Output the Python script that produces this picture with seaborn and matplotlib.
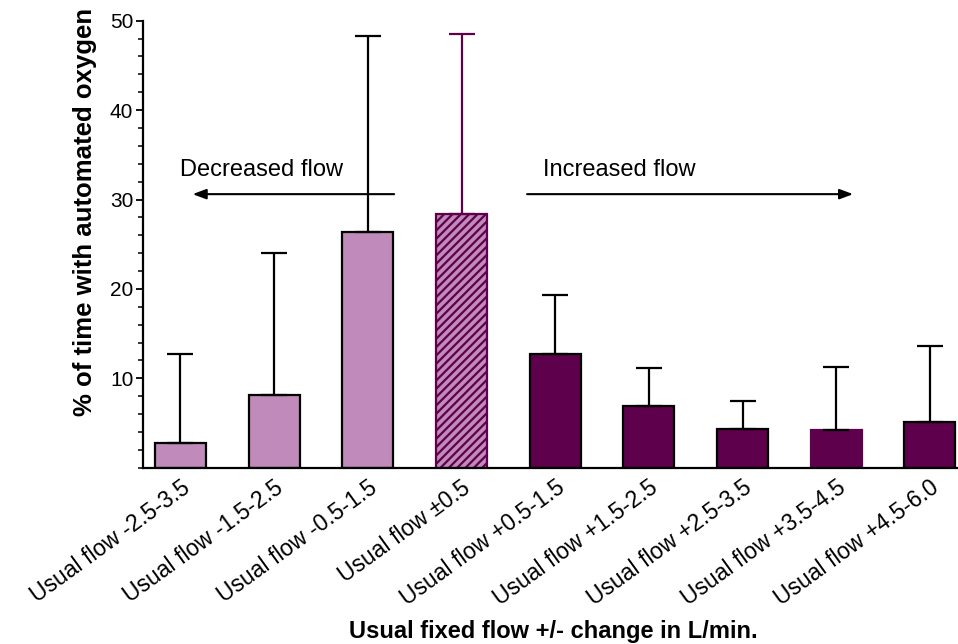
import matplotlib
matplotlib.use("Agg")
import matplotlib.pyplot as plt
from matplotlib.ticker import MultipleLocator
import numpy as np
import seaborn as sns

# data
categories = ["Usual flow -2.5-3.5", "Usual flow -1.5-2.5", "Usual flow -0.5-1.5",
              "Usual flow \u00b10.5", "Usual flow +0.5-1.5", "Usual flow +1.5-2.5",
              "Usual flow +2.5-3.5", "Usual flow +3.5-4.5", "Usual flow +4.5-6.0"]
means = [2.8, 8.1, 26.4, 28.4, 12.7, 6.9, 4.3, 4.2, 5.1]
upper = [12.7, 24.0, 48.3, 48.5, 19.3, 11.2, 7.5, 11.3, 13.6]

light = "#C08ABA"
dark = "#5E004B"
colors = [light, light, light, light, dark, dark, dark, dark, dark]
edges = ["black", "black", "black", dark, "black", "black", "black", dark, "black"]
err_colors = ["black", "black", "black", dark, "black", "black", "black", "black", "black"]

sns.set_style("ticks")
plt.rcParams['font.family'] = ['Liberation Sans', 'DejaVu Sans']
plt.rcParams['hatch.linewidth'] = 1.6
for key in ["text.color", "axes.labelcolor", "xtick.color", "ytick.color", "axes.edgecolor"]:
    plt.rcParams[key] = "black"

fig = plt.figure(figsize=(9.58, 6.44), dpi=100)
ax = fig.add_axes([0.1493, 0.2738, 0.8507, 0.6940])

sns.barplot(x=categories, y=means, hue=categories, palette=colors, legend=False,
            width=0.545, ax=ax, saturation=1)

for i, patch in enumerate(ax.patches):
    patch.set_edgecolor(edges[i])
    patch.set_linewidth(1.6)
    if i == 3:
        patch.set_hatch("////")

x = np.arange(len(categories))
for i in range(len(categories)):
    ax.errorbar(x[i], means[i], yerr=[[0], [upper[i] - means[i]]], fmt="none",
                ecolor=err_colors[i], elinewidth=1.6, capsize=9.5, capthick=1.6,
                zorder=1)

ax.set_xlim(-0.40, 8.30)
ax.set_ylim(0, 50)
ax.set_yticks([10, 20, 30, 40, 50])
ax.yaxis.set_minor_locator(MultipleLocator(2))
ax.tick_params(axis="y", which="major", length=5, width=1.3, labelsize=15, pad=2)
ax.tick_params(axis="y", which="minor", length=3.5, width=1.1)
ax.tick_params(axis="x", length=0, labelsize=16.5, pad=6)
plt.setp(ax.get_xticklabels(), rotation=36, ha="right", rotation_mode="anchor")

for side in ["top", "right"]:
    ax.spines[side].set_visible(False)
for side in ["left", "bottom"]:
    ax.spines[side].set_linewidth(1.6)

ax.set_ylabel("% of time with automated oxygen", fontsize=18.5, fontweight="bold")
ax.yaxis.set_label_coords(-0.056, 0.572)
ax.set_xlabel("Usual fixed flow +/- change in L/min.", fontsize=17, fontweight="bold")
ax.xaxis.set_label_coords(0.504, -0.341)

# direction arrows
ax.annotate("", xy=(0.10, 30.6), xytext=(2.31, 30.6),
            arrowprops=dict(arrowstyle="-|>,head_length=0.8,head_width=0.3", color="black", lw=1.5))
ax.annotate("", xy=(7.21, 30.6), xytext=(3.67, 30.6),
            arrowprops=dict(arrowstyle="-|>,head_length=0.8,head_width=0.3", color="black", lw=1.5))
ax.text(0.0, 33.3, "Decreased flow", fontsize=17, ha="left", va="center")
ax.text(3.87, 33.3, "Increased flow", fontsize=17, ha="left", va="center")

fig.savefig("out.png", dpi=100)
